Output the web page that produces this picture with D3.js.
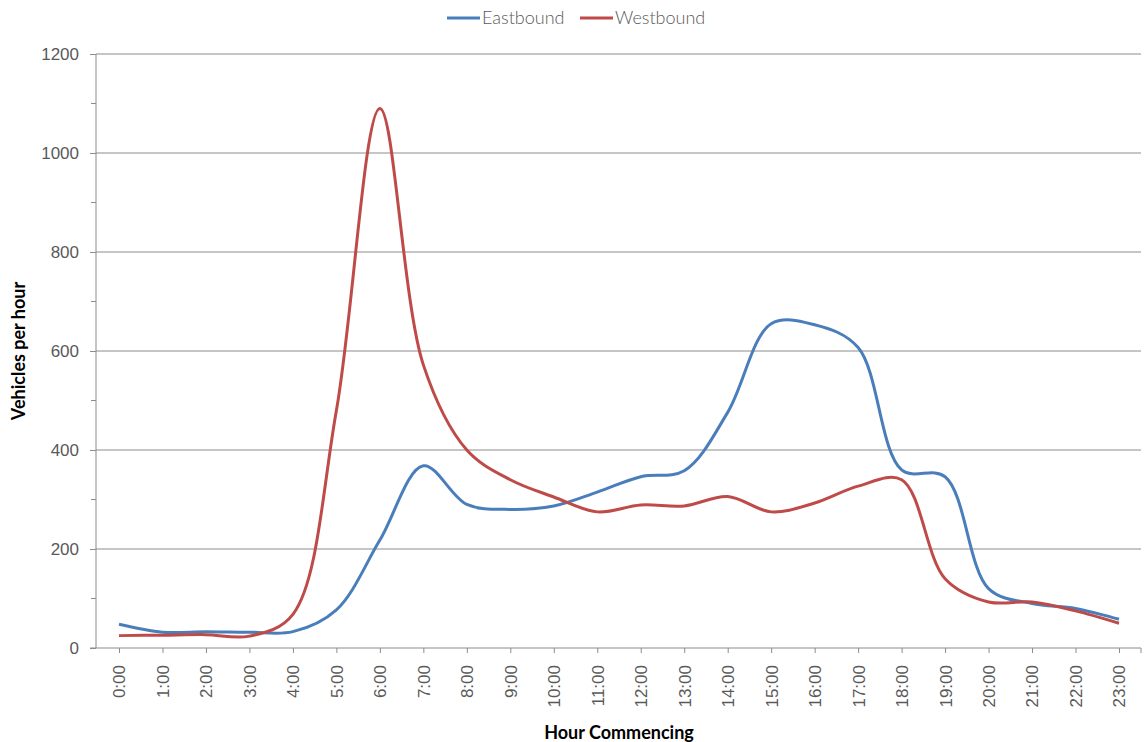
<!doctype html>
<html lang="en">
<head>
  <meta charset="utf-8">
  <title>Vehicles per hour</title>
  <style>
    body { margin: 0; background: #fff; }
    svg { font-family: "Lato", "Open Sans", sans-serif; }
    .grid line { stroke: #8c8c8c; stroke-width: 1; }
    .axis path, .axis line { stroke: #8c8c8c; }
    .axis text { fill: #595959; font-size: 17px; font-weight: 300; }
    .title { font-weight: bold; font-size: 18px; fill: #000; }
  </style>
</head>
<body>
  <div id="chart"></div>

  <script src="https://cdn.jsdelivr.net/npm/d3@7"></script>
  <script>
  (function(){

    var hours = ["0:00","1:00","2:00","3:00","4:00","5:00","6:00","7:00","8:00","9:00","10:00","11:00",
                 "12:00","13:00","14:00","15:00","16:00","17:00","18:00","19:00","20:00","21:00","22:00","23:00"];
    var eastbound = [48, 32, 33, 32, 33, 77, 218, 368, 290, 280, 287, 315,
                     346, 358, 476, 655, 653, 607, 360, 346, 120, 90, 80, 58];
    var westbound = [25, 26, 27, 24, 68, 480, 1090, 572, 400, 340, 305, 275,
                     289, 287, 306, 275, 293, 327, 340, 140, 93, 93, 75, 50];
    var yTicks = [0, 200, 400, 600, 800, 1000, 1200];

    var series = [
      { name: "Eastbound", values: eastbound, color: "#4a7ebb" },
      { name: "Westbound", values: westbound, color: "#be4b48" }
    ];

    var width = 1146, height = 742;
    var left = 96, right = 1141, top = 54, bottom = 648;

    var svg = d3.select("#chart").append("svg")
        .attr("width", width)
        .attr("height", height);

    var x = d3.scalePoint().domain(hours).range([119, 1119]);
    var y = d3.scaleLinear().domain([0, 1200]).range([bottom, top]);

    // gridlines
    svg.append("g").attr("class", "grid")
      .selectAll("line").data(yTicks.slice(1)).enter()
      .append("line")
        .attr("x1", left).attr("x2", right)
        .attr("y1", function(d){ return y(d); })
        .attr("y2", function(d){ return y(d); });

    // minor ticks every 100
    svg.append("g").attr("class", "axis")
      .selectAll("line").data(d3.range(100, 1200, 200)).enter()
      .append("line")
        .attr("x1", left - 5).attr("x2", left)
        .attr("y1", function(d){ return y(d); })
        .attr("y2", function(d){ return y(d); });

    // y axis
    var yAxis = svg.append("g").attr("class", "axis")
        .attr("transform", "translate(" + left + ",0)")
        .call(d3.axisLeft(y).tickValues(yTicks).tickFormat(d3.format("d"))
          .tickSize(6).tickPadding(11).tickSizeOuter(0));
    yAxis.select(".domain").attr("d", "M0," + top + "V" + bottom);

    // x axis
    var xAxis = svg.append("g").attr("class", "axis")
        .attr("transform", "translate(0," + bottom + ")")
        .call(d3.axisBottom(x).tickSize(5).tickSizeOuter(0));
    xAxis.select(".domain").attr("d", "M" + (left - 6) + ",0H" + right);
    xAxis.append("line").attr("x1", right).attr("x2", right).attr("y1", 0).attr("y2", 5);
    xAxis.selectAll(".tick text")
        .attr("transform", "rotate(-90)")
        .attr("text-anchor", "end")
        .attr("x", -17)
        .attr("y", 0)
        .attr("dy", "0.35em");

    // smoothed lines
    var line = d3.line()
        .x(function(d, i){ return x(hours[i]); })
        .y(function(d){ return y(d); })
        .curve(d3.curveCatmullRom.alpha(0.5));

    svg.selectAll(".series").data(series).enter()
      .append("path")
        .attr("class", "series")
        .attr("fill", "none")
        .attr("stroke", function(d){ return d.color; })
        .attr("stroke-width", 3)
        .attr("d", function(d){ return line(d.values); });

    // legend
    var legendX = [447, 580];
    var legend = svg.selectAll(".legend").data(series).enter()
      .append("g")
        .attr("class", "legend")
        .attr("transform", function(d, i){ return "translate(" + legendX[i] + ",18)"; });
    legend.append("line")
        .attr("x1", 0).attr("x2", 33)
        .attr("stroke", function(d){ return d.color; })
        .attr("stroke-width", 3);
    legend.append("text")
        .attr("x", 35).attr("dy", "0.35em")
        .attr("fill", "#595959")
        .style("font-size", "18px")
        .style("font-weight", 300)
        .text(function(d){ return d.name; });

    // axis titles
    svg.append("text").attr("class", "title")
        .attr("text-anchor", "middle")
        .attr("transform", "translate(25,351) rotate(-90)")
        .text("Vehicles per hour");
    svg.append("text").attr("class", "title")
        .attr("text-anchor", "middle")
        .attr("x", 619).attr("y", 739)
        .text("Hour Commencing");

  })();
  </script>
</body>
</html>
